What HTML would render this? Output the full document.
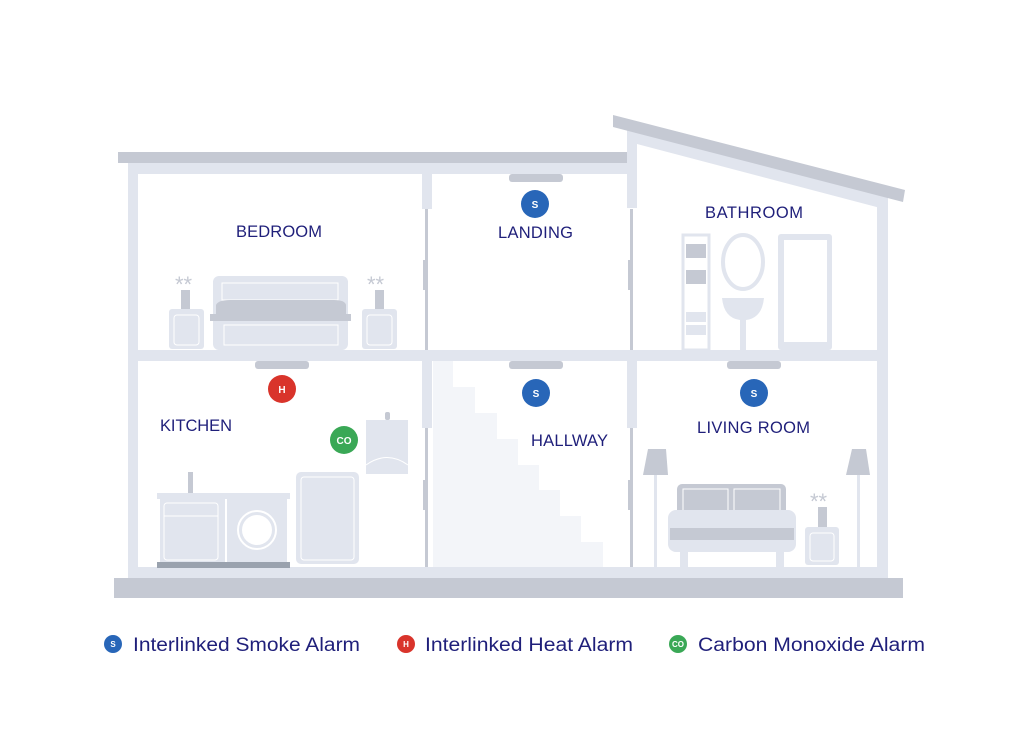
<!DOCTYPE html>
<html><head><meta charset="utf-8"><style>
html,body{margin:0;padding:0;background:#fff;width:1024px;height:744px;overflow:hidden}
text{font-family:"Liberation Sans",sans-serif}
</style></head><body>
<svg width="1024" height="744" viewBox="0 0 1024 744" xmlns="http://www.w3.org/2000/svg">
<path d="M433 361 H453 V387 H475 V413 H497 V439 H518 V465 H539 V490 H560 V516 H581 V542 H603 V567 H433 Z" fill="#f3f5f9"/>
<g fill="#e1e5ee">
<rect x="128" y="163" width="10" height="415"/>
<rect x="128" y="163" width="499" height="11"/>
<rect x="422" y="174" width="10" height="35"/>
<rect x="422" y="350" width="10" height="11"/>
<rect x="422" y="361" width="10" height="67"/>
<rect x="627" y="128" width="10" height="80"/>
<rect x="627" y="350" width="10" height="11"/>
<rect x="627" y="361" width="10" height="67"/>
<rect x="877" y="200" width="11" height="378"/>
<rect x="128" y="350" width="760" height="11"/>
<rect x="128" y="567" width="760" height="11"/>
<polygon points="627,128 888,196 888,210 637,144 627,144"/>
</g>
<g fill="#c5c9d3">
<rect x="118" y="152" width="509" height="11"/>
<polygon points="613,115 905,190 903,202 613,127"/>
<rect x="114" y="578" width="789" height="20"/>
<rect x="425" y="209" width="3" height="141"/>
<rect x="425" y="428" width="3" height="139"/>
<rect x="630" y="209" width="3" height="141"/>
<rect x="630" y="428" width="3" height="139"/>
<rect x="423" y="260" width="3" height="30"/>
<rect x="628" y="260" width="3" height="30"/>
<rect x="423" y="480" width="3" height="30"/>
<rect x="628" y="480" width="3" height="30"/>
</g>
<g fill="#c5c9d3">
<rect x="509" y="174" width="54" height="8" rx="3"/>
<rect x="255" y="361" width="54" height="8" rx="3"/>
<rect x="509" y="361" width="54" height="8" rx="3"/>
<rect x="727" y="361" width="54" height="8" rx="3"/>
</g>
<g>
<rect x="213" y="276" width="135" height="74" rx="6" fill="#e1e5ee"/>
<path d="M222 283 H338 V300 H222 Z" fill="none" stroke="#fff" stroke-width="1"/>
<path d="M216 305 Q218 300 230 300 H334 Q345 300 346 305 V315 H216Z" fill="#c5c9d3"/>
<rect x="210" y="314" width="141" height="7" fill="#c5c9d3"/>
<rect x="224" y="325" width="114" height="20" fill="none" stroke="#fff" stroke-width="1"/>
<rect x="169" y="309" width="35" height="40" rx="3" fill="#e1e5ee"/>
<rect x="174" y="315" width="25" height="30" rx="3" fill="none" stroke="#fff"/>
<rect x="181" y="290" width="9" height="19" fill="#c5c9d3"/>
<text x="175" y="292" font-size="22" fill="#c5c9d3">**</text>
<rect x="362" y="309" width="35" height="40" rx="3" fill="#e1e5ee"/>
<rect x="367" y="315" width="25" height="30" rx="3" fill="none" stroke="#fff"/>
<rect x="375" y="290" width="9" height="19" fill="#c5c9d3"/>
<text x="367" y="292" font-size="22" fill="#c5c9d3">**</text>
</g>
<g fill="#e1e5ee">
<rect x="683" y="235" width="26" height="115" fill="none" stroke="#e1e5ee" stroke-width="3"/>
<rect x="686" y="244" width="20" height="14" fill="#c5c9d3"/>
<rect x="686" y="270" width="20" height="14" fill="#c5c9d3"/>
<rect x="686" y="312" width="20" height="10"/>
<rect x="686" y="325" width="20" height="10"/>
<ellipse cx="743" cy="262" rx="20" ry="27" fill="none" stroke="#e1e5ee" stroke-width="4"/>
<path d="M722 298 H764 Q762 318 746 320 V350 H740 V320 Q724 318 722 298Z"/>
<rect x="778" y="234" width="54" height="116" rx="3"/>
<rect x="784" y="240" width="43" height="102" fill="#fff"/>
</g>
<g>
<rect x="157" y="493" width="133" height="6" fill="#e1e5ee"/>
<rect x="188" y="472" width="5" height="21" fill="#c5c9d3"/>
<rect x="160" y="499" width="127" height="63" fill="#e1e5ee"/>
<rect x="164" y="503" width="54" height="57" rx="3" fill="none" stroke="#fff"/>
<line x1="164" y1="516" x2="218" y2="516" stroke="#fff"/>
<line x1="226" y1="499" x2="226" y2="562" stroke="#fff" stroke-width="2"/>
<circle cx="257" cy="530" r="19" fill="none" stroke="#fff" stroke-width="2"/>
<circle cx="257" cy="530" r="15" fill="#fff"/>
<rect x="157" y="562" width="133" height="6" fill="#9aa2ae"/>
<rect x="296" y="472" width="63" height="92" rx="5" fill="#e1e5ee"/>
<rect x="301" y="477" width="53" height="83" rx="3" fill="none" stroke="#fff"/>
<rect x="366" y="420" width="42" height="54" fill="#e1e5ee"/>
<rect x="385" y="412" width="5" height="8" fill="#c5c9d3" rx="2"/>
<path d="M366 465 Q387 450 408 465" fill="none" stroke="#fff"/>
</g>
<g>
<polygon points="648,449 666,449 668,475 643,475" fill="#c5c9d3"/>
<rect x="654" y="475" width="3" height="92" fill="#e1e5ee"/>
<polygon points="852,449 866,449 870,475 846,475" fill="#c5c9d3"/>
<rect x="857" y="475" width="3" height="92" fill="#e1e5ee"/>
<rect x="677" y="484" width="109" height="45" rx="5" fill="#c5c9d3"/>
<rect x="683" y="489" width="45" height="38" fill="none" stroke="#fff"/>
<rect x="734" y="489" width="46" height="38" fill="none" stroke="#fff"/>
<rect x="668" y="510" width="128" height="42" rx="8" fill="#e1e5ee"/>
<rect x="670" y="528" width="124" height="12" fill="#c5c9d3"/>
<rect x="680" y="552" width="8" height="15" fill="#e1e5ee"/>
<rect x="776" y="552" width="8" height="15" fill="#e1e5ee"/>
<rect x="805" y="527" width="34" height="38" rx="3" fill="#e1e5ee"/>
<rect x="810" y="533" width="24" height="28" rx="3" fill="none" stroke="#fff"/>
<rect x="818" y="507" width="9" height="20" fill="#c5c9d3"/>
<text x="810" y="509" font-size="22" fill="#c5c9d3">**</text>
</g>
<g font-size="10" font-weight="bold" fill="#fff" text-anchor="middle">
<circle cx="535" cy="204" r="14" fill="#2866b8"/><text x="535" y="208">S</text>
<circle cx="282" cy="389" r="14" fill="#d9342b"/><text x="282" y="393">H</text>
<circle cx="536" cy="393" r="14" fill="#2866b8"/><text x="536" y="397">S</text>
<circle cx="754" cy="393" r="14" fill="#2866b8"/><text x="754" y="397">S</text>
<circle cx="344" cy="440" r="14" fill="#3aa856"/><text x="344" y="444">CO</text>
</g>
<g font-size="16.5" fill="#1f1f7a">
<text x="236" y="237" textLength="86">BEDROOM</text>
<text x="498" y="238" textLength="75">LANDING</text>
<text x="705" y="218" textLength="98">BATHROOM</text>
<text x="160" y="431" textLength="72">KITCHEN</text>
<text x="531" y="446" textLength="77">HALLWAY</text>
<text x="697" y="433" textLength="113">LIVING ROOM</text>
</g>
<g font-size="8" font-weight="bold" fill="#fff" text-anchor="middle">
<circle cx="113" cy="644" r="9" fill="#2866b8"/><text x="113" y="647">S</text>
<circle cx="406" cy="644" r="9" fill="#d9342b"/><text x="406" y="647">H</text>
<circle cx="678" cy="644" r="9" fill="#3aa856"/><text x="678" y="647">CO</text>
</g>
<g font-size="19" fill="#1f1f7a">
<text x="133" y="651" textLength="227" lengthAdjust="spacingAndGlyphs">Interlinked Smoke Alarm</text>
<text x="425" y="651" textLength="208" lengthAdjust="spacingAndGlyphs">Interlinked Heat Alarm</text>
<text x="698" y="651" textLength="227" lengthAdjust="spacingAndGlyphs">Carbon Monoxide Alarm</text>
</g>
</svg>
</body></html>
